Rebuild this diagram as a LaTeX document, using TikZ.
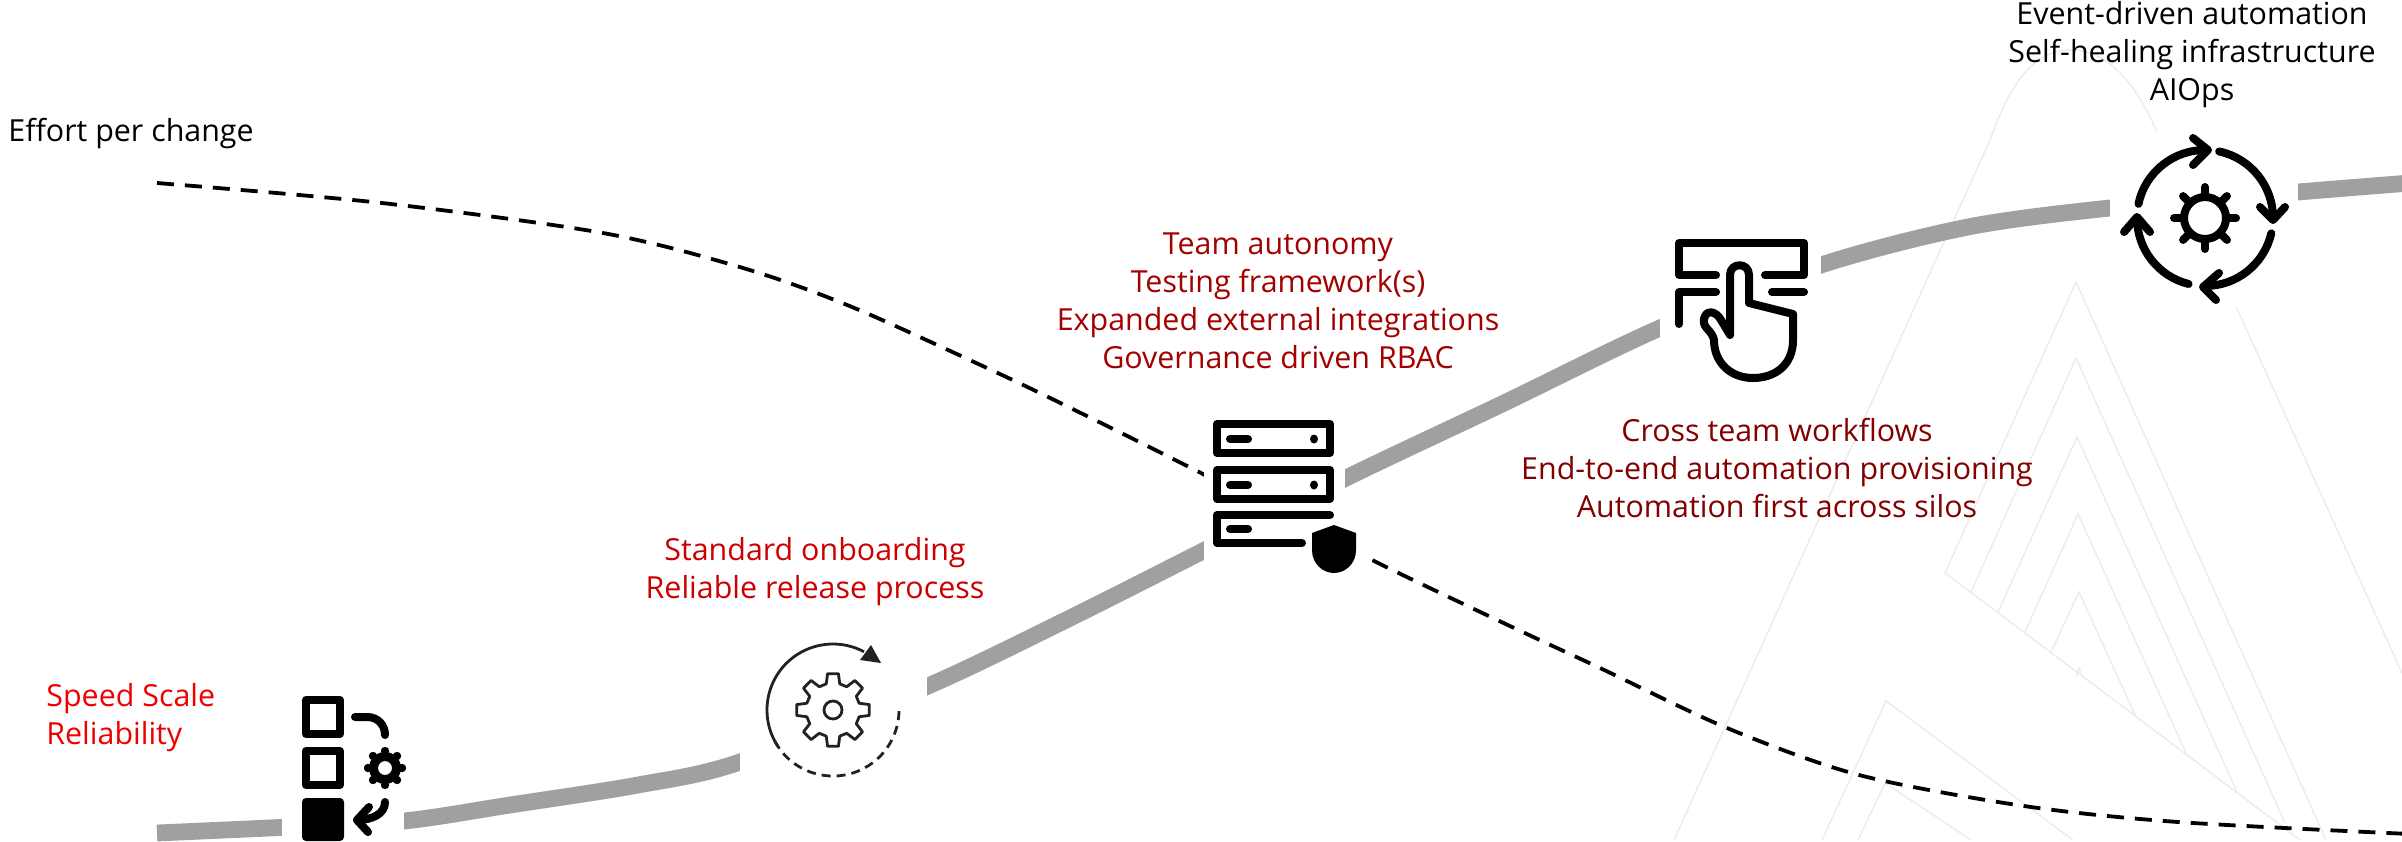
\documentclass[tikz,border=0pt]{standalone}
\usepackage{fontspec}
\setmainfont{Open Sans}
\definecolor{road}{HTML}{A0A0A0}
\definecolor{peak}{HTML}{ECECEC}
\definecolor{redA}{HTML}{EE0000}
\definecolor{redB}{HTML}{CC0000}
\definecolor{redT}{HTML}{A30000}
\definecolor{redC}{HTML}{820000}
\definecolor{ink}{HTML}{222222}
\tikzset{
 peakline/.style={draw=peak,line width=0.75pt,line join=miter},
 roadline/.style={draw=road,line width=8.4pt},
 effort/.style={draw=black,line width=1.9pt,dash pattern=on 8.5pt off 5.5pt},
 iconline/.style={draw=black,line width=4pt,line cap=round,line join=round},
 thinicon/.style={draw=ink,line width=1.4pt,line join=round},
 backdrop/.style={fill=white,draw=none},
 label/.style={inner sep=0pt,align=center,font=\fontsize{15.2pt}{19pt}\selectfont},
 labelL/.style={inner sep=0pt,align=left,font=\fontsize{15.2pt}{19pt}\selectfont},
}
\begin{document}
\begin{tikzpicture}[x=0.5pt,y=-0.5pt]
\useasboundingbox (0,0) rectangle (2402,841);
\clip (0,0) rectangle (2402,841);
% background peaks
\draw[peakline] (1674,840) -- (1990,140) .. controls (2015,70) and (2040,50) .. (2072,50) .. controls (2105,50) and (2135,80) .. (2157,132) -- (2402,673);
\draw[peakline] (1945,573) -- (2076,282) -- (2326,840);
\draw[peakline] (1945,573) -- (2300,840);
\draw[peakline] (1971,592) -- (2076,358) -- (2285,823);
\draw[peakline] (1998,612) -- (2077,437) -- (2237,792);
\draw[peakline] (2025,632) -- (2078,514) -- (2186,753);
\draw[peakline] (2051,652) -- (2079,592) -- (2135,715);
\draw[peakline] (2076,676) -- (2079,668) -- (2082,677);
\draw[peakline] (1822,840) -- (1886,701) -- (2073,840);
\draw[peakline] (1858,840) -- (1885,783) -- (1971,840);
% curve knots
\coordinate (r0) at (157,833);
\coordinate (r1) at (290,827);
\coordinate (r2) at (404,821);
\coordinate (r3) at (510,805);
\coordinate (r4) at (638,785);
\coordinate (r5) at (740,762);
\coordinate (r6) at (928,686);
\coordinate (r7) at (1064,621);
\coordinate (r8) at (1201,552);
\coordinate (r9) at (1346,478);
\coordinate (r10) at (1502,404);
\coordinate (r11) at (1660,328);
\coordinate (r12) at (1821,265);
\coordinate (r13) at (1968,227);
\coordinate (r14) at (2110,208);
\coordinate (r15) at (2298,192);
\coordinate (r16) at (2410,183);
\coordinate (e0) at (157,183);
\coordinate (e1) at (382,203);
\coordinate (e2) at (603,233);
\coordinate (e3) at (743,268);
\coordinate (e4) at (852,307);
\coordinate (e5) at (1002,375);
\coordinate (e6) at (1099,422);
\coordinate (e7) at (1201,473);
\coordinate (e8) at (1372,560);
\coordinate (e9) at (1512,627);
\coordinate (e10) at (1600,668);
\coordinate (e11) at (1727,728);
\coordinate (e12) at (1859,775);
\coordinate (e13) at (2024,806);
\coordinate (e14) at (2178,822);
\coordinate (e15) at (2410,834);
\draw[roadline] plot[smooth,tension=0.5] coordinates {(r0)(r1)(r2)(r3)(r4)(r5)(r6)(r7)(r8)(r9)(r10)(r11)(r12)(r13)(r14)(r15)(r16)};
\draw[effort] plot[smooth,tension=0.5] coordinates {(e0)(e1)(e2)(e3)(e4)(e5)(e6)(e7)(e8)(e9)(e10)(e11)(e12)(e13)(e14)(e15)};
% backdrops
\fill[backdrop] (282,690) rectangle (404,841);
\fill[backdrop] (740,630) rectangle (927,790);
\fill[backdrop] (1204,410) rectangle (1345,600);
\fill[backdrop] (1345,510) rectangle (1372,600);
\fill[backdrop] (1660,230) rectangle (1821,390);
\fill[backdrop] (2110,132) rectangle (2298,307);
% checklist icon
\draw[iconline] (306,700) rectangle (340,734);
\draw[iconline] (306,751) rectangle (340,785);
\fill[rounded corners=2pt] (302,798) rectangle (344,841);
\draw[iconline] (355,717) -- (367,717) .. controls (378,717) and (385,725) .. (385,735);
\draw[iconline] (385,802) .. controls (385,814) and (372,820) .. (357,820);
\draw[iconline] (369,807) -- (357,820) -- (368,832);
\begin{scope}[shift={(385,768)}]
\foreach \a in {0,45,...,315}{\fill (\a:17) circle (4.2);}
\fill[even odd rule] (0,0) circle (16) (0,0) circle (7);
\end{scope}
% gear-cycle icon
\draw[thinicon] (833,710) ++(-213:66) arc (-213:-62:66);
\draw[thinicon,dash pattern=on 4.5pt off 3pt] (833,710) ++(-208:66) arc (-208:-360:66);
\fill[ink] (881,663) -- (871,645) -- (860,660) -- cycle;
\begin{scope}[shift={(833,710)}]
\draw[thinicon] (-8.5:36.7) \foreach \a in {0,45,...,315}{ -- (\a-8.5:36.7) -- (\a+8.5:36.7) -- (\a+14.5:27) -- (\a+30.5:27)} -- cycle;
\draw[thinicon] (0,0) circle (9);
\end{scope}
% server icon
\draw[iconline] (1217,424) rectangle (1330,453);
\draw[iconline] (1217,470) rectangle (1330,499);
\draw[iconline] (1330,515) -- (1217,515) -- (1217,543) -- (1302,543);
\foreach \y in {439,485,529}{\draw[line width=4pt,line cap=round] (1230,\y) -- (1248,\y);}
\fill (1314,439) ellipse (4 and 4.5);
\fill (1314,485) ellipse (4 and 4.5);
\fill (1334,525) -- (1356,533) -- (1356,550) .. controls (1356,564) and (1345,573) .. (1334,573) .. controls (1323,573) and (1312,564) .. (1312,550) -- (1312,533) -- cycle;
% hand icon
\draw[iconline] (1716,275) -- (1679,275) -- (1679,243) -- (1804,243) -- (1804,275) -- (1765,275);
\draw[iconline] (1772,292) -- (1804,292);
\draw[iconline] (1716,292) -- (1679,292) -- (1679,324);
\draw[iconline] (1730,335) -- (1730,275) .. controls (1730,262) and (1749,262) .. (1749,275) -- (1749,303) -- (1793,314) -- (1793,340) .. controls (1793,365) and (1775,378) .. (1753,378) .. controls (1730,378) and (1714,362) .. (1714,340) .. controls (1712,330) and (1702,328) .. (1704,319) .. controls (1706,309) and (1716,311) .. (1721,320) -- (1730,335);
% loop icon
\draw[iconline] (2205,218) ++(-168:68) arc (-168:-88:68);
\draw[iconline] (2193,138) -- (2208,150) -- (2193,165);
\draw[iconline] (2205,218) ++(-78:68) arc (-78:0:68);
\draw[iconline] (2260,207) -- (2273,220) -- (2285,207);
\draw[iconline] (2205,218) ++(13:68) arc (13:90:68);
\draw[iconline] (2219,273) -- (2203,287) -- (2216,300);
\draw[iconline] (2205,218) ++(104:68) arc (104:180:68);
\draw[iconline] (2124,232) -- (2137,217) -- (2150,232);
\draw[iconline] (2205,218) circle (21);
\foreach \a in {0,45,...,315}{\draw[iconline] (2205,218) ++(\a:21) -- ++(\a:10);}
% labels
\node[labelL,anchor=west,text=black] (effort) at (8,134) {Effort per change};
\node[labelL,anchor=west,text=redA] (speed) at (46,718) {Speed Scale\\Reliability};
\node[label,text=redB] (std) at (815,572) {Standard onboarding\\Reliable release process};
\node[label,text=redT] (team) at (1278,301) {Team autonomy\\Testing framework(s)\\Expanded external integrations\\Governance driven RBAC};
\node[label,text=redC] (cross) at (1777,468) {Cross team workflows\\End-to-end automation provisioning\\Automation first across silos};
\node[label,text=black] (event) at (2192,55) {Event-driven automation\\Self-healing infrastructure\\AIOps};
\end{tikzpicture}
\end{document}
